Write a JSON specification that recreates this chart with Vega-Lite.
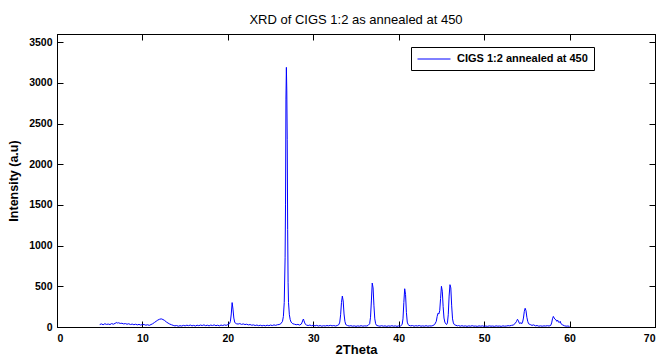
{
  "$schema": "https://vega.github.io/schema/vega-lite/v6.json",
  "width": 598,
  "height": 293,
  "autosize": {"type": "none"},
  "padding": {"left": 57, "top": 34, "right": 1, "bottom": 29},
  "background": "white",
  "config": {
    "view": {"stroke": "black", "strokeWidth": 1},
    "font": "Liberation Sans",
    "axis": {
      "grid": false,
      "domainColor": "black",
      "tickColor": "black",
      "tickSize": -6,
      "labelColor": "black",
      "labelFont": "Liberation Sans",
      "labelFontWeight": "bold",
      "labelFontSize": 10.5,
      "titleColor": "black",
      "titleFont": "Liberation Sans",
      "titleFontWeight": "bold",
      "titleFontSize": 13
    }
  },
  "title": {"text": "XRD of CIGS 1:2 as annealed at 450", "fontSize": 13, "fontWeight": "normal", "font": "Liberation Sans", "color": "black", "offset": 7, "anchor": "middle"},
  "data": {"values": [
    {"t":5.0,"i":30},{"t":5.2,"i":38},{"t":5.4,"i":28},{"t":5.6,"i":40},{"t":5.8,"i":32},{"t":6.0,"i":36},{"t":6.2,"i":30},{"t":6.4,"i":42},{"t":6.6,"i":34},{"t":6.8,"i":45},{"t":7.0,"i":55},{"t":7.1,"i":48},{"t":7.2,"i":52},{"t":7.4,"i":44},{"t":7.6,"i":46},{"t":7.8,"i":38},{"t":8.0,"i":42},{"t":8.2,"i":34},{"t":8.4,"i":40},{"t":8.6,"i":30},{"t":8.8,"i":36},{"t":9.0,"i":28},{"t":9.2,"i":34},{"t":9.4,"i":26},{"t":9.6,"i":32},{"t":9.8,"i":24},{"t":10.0,"i":30},
    {"t":10.2,"i":30},{"t":10.4,"i":22},{"t":10.6,"i":28},{"t":10.8,"i":20},{"t":11.0,"i":30},{"t":11.2,"i":40},{"t":11.4,"i":55},{"t":11.6,"i":70},{"t":11.8,"i":85},{"t":12.0,"i":95},{"t":12.2,"i":100},{"t":12.4,"i":92},{"t":12.6,"i":80},{"t":12.8,"i":62},{"t":13.0,"i":48},{"t":13.2,"i":36},{"t":13.4,"i":28},{"t":13.6,"i":20},{"t":13.8,"i":14},{"t":14.0,"i":18},{"t":14.2,"i":10},{"t":14.4,"i":16},{"t":14.6,"i":12},{"t":14.8,"i":20},{"t":15.0,"i":14},{"t":15.2,"i":22},{"t":15.4,"i":16},{"t":15.6,"i":24},{"t":15.8,"i":14},{"t":16.0,"i":20},{"t":16.2,"i":12},{"t":16.4,"i":22},{"t":16.6,"i":16},{"t":16.8,"i":24},{"t":17.0,"i":18},{"t":17.2,"i":26},{"t":17.4,"i":16},{"t":17.6,"i":22},{"t":17.8,"i":14},{"t":18.0,"i":24},{"t":18.2,"i":18},{"t":18.4,"i":26},{"t":18.6,"i":16},{"t":18.8,"i":22},{"t":19.0,"i":14},{"t":19.2,"i":24},{"t":19.4,"i":18},{"t":19.6,"i":26},{"t":19.8,"i":20},
    {"t":20.0,"i":30},{"t":20.2,"i":42},{"t":20.3,"i":70},{"t":20.4,"i":160},{"t":20.5,"i":300},{"t":20.6,"i":220},{"t":20.7,"i":110},{"t":20.8,"i":60},{"t":20.9,"i":45},{"t":21.0,"i":40},{"t":21.2,"i":36},{"t":21.4,"i":42},{"t":21.6,"i":32},{"t":21.8,"i":38},{"t":22.0,"i":30},{"t":22.2,"i":34},{"t":22.4,"i":26},{"t":22.6,"i":30},{"t":22.8,"i":22},{"t":23.0,"i":26},{"t":23.2,"i":18},{"t":23.4,"i":24},{"t":23.6,"i":16},{"t":23.8,"i":22},{"t":24.0,"i":14},{"t":24.2,"i":20},{"t":24.4,"i":14},{"t":24.6,"i":22},{"t":24.8,"i":16},{"t":25.0,"i":24},{"t":25.2,"i":18},{"t":25.4,"i":26},{"t":25.6,"i":20},{"t":25.8,"i":28},{"t":26.0,"i":30},{"t":26.2,"i":40},{"t":26.4,"i":70},{"t":26.5,"i":130},{"t":26.6,"i":300},{"t":26.7,"i":850},{"t":26.75,"i":1500},{"t":26.8,"i":2800},{"t":26.85,"i":3190},{"t":26.9,"i":2900},{"t":26.95,"i":2300},{"t":27.0,"i":1200},{"t":27.05,"i":550},{"t":27.1,"i":300},{"t":27.2,"i":150},{"t":27.3,"i":90},{"t":27.4,"i":60},{"t":27.6,"i":40},{"t":27.8,"i":34},{"t":28.0,"i":28},{"t":28.2,"i":32},{"t":28.4,"i":24},{"t":28.6,"i":36},{"t":28.7,"i":60},{"t":28.8,"i":90},{"t":28.85,"i":98},{"t":28.9,"i":80},{"t":29.0,"i":50},{"t":29.1,"i":30},{"t":29.2,"i":24},{"t":29.4,"i":18},{"t":29.6,"i":24},{"t":29.8,"i":16},
    {"t":30.0,"i":22},{"t":30.2,"i":14},{"t":30.4,"i":20},{"t":30.6,"i":12},{"t":30.8,"i":18},{"t":31.0,"i":10},{"t":31.2,"i":16},{"t":31.4,"i":12},{"t":31.6,"i":18},{"t":31.8,"i":14},{"t":32.0,"i":20},{"t":32.2,"i":14},{"t":32.4,"i":18},{"t":32.6,"i":12},{"t":32.8,"i":18},{"t":33.0,"i":30},{"t":33.1,"i":60},{"t":33.2,"i":150},{"t":33.3,"i":300},{"t":33.4,"i":380},{"t":33.5,"i":320},{"t":33.6,"i":160},{"t":33.7,"i":70},{"t":33.8,"i":30},{"t":34.0,"i":18},{"t":34.2,"i":12},{"t":34.4,"i":16},{"t":34.6,"i":10},{"t":34.8,"i":14},{"t":35.0,"i":8},{"t":35.2,"i":14},{"t":35.4,"i":10},{"t":35.6,"i":16},{"t":35.8,"i":10},{"t":36.0,"i":14},{"t":36.2,"i":12},{"t":36.4,"i":18},{"t":36.6,"i":40},{"t":36.7,"i":120},{"t":36.8,"i":320},{"t":36.9,"i":540},{"t":37.0,"i":480},{"t":37.1,"i":260},{"t":37.2,"i":100},{"t":37.3,"i":40},{"t":37.4,"i":20},{"t":37.6,"i":14},{"t":37.8,"i":10},{"t":38.0,"i":16},{"t":38.2,"i":10},{"t":38.4,"i":14},{"t":38.6,"i":8},{"t":38.8,"i":14},{"t":39.0,"i":10},{"t":39.2,"i":16},{"t":39.4,"i":10},{"t":39.6,"i":14},{"t":39.8,"i":8},
    {"t":40.0,"i":14},{"t":40.2,"i":12},{"t":40.4,"i":30},{"t":40.5,"i":100},{"t":40.6,"i":300},{"t":40.7,"i":470},{"t":40.8,"i":400},{"t":40.9,"i":180},{"t":41.0,"i":60},{"t":41.1,"i":30},{"t":41.2,"i":20},{"t":41.4,"i":14},{"t":41.6,"i":18},{"t":41.8,"i":10},{"t":42.0,"i":16},{"t":42.2,"i":12},{"t":42.4,"i":18},{"t":42.6,"i":10},{"t":42.8,"i":14},{"t":43.0,"i":10},{"t":43.2,"i":16},{"t":43.4,"i":10},{"t":43.6,"i":14},{"t":43.8,"i":12},{"t":44.0,"i":18},{"t":44.2,"i":30},{"t":44.4,"i":70},{"t":44.5,"i":130},{"t":44.6,"i":170},{"t":44.7,"i":160},{"t":44.8,"i":200},{"t":44.9,"i":350},{"t":45.0,"i":500},{"t":45.1,"i":440},{"t":45.2,"i":250},{"t":45.3,"i":110},{"t":45.4,"i":60},{"t":45.5,"i":40},{"t":45.6,"i":30},{"t":45.7,"i":50},{"t":45.8,"i":150},{"t":45.9,"i":380},{"t":46.0,"i":520},{"t":46.1,"i":480},{"t":46.2,"i":260},{"t":46.3,"i":100},{"t":46.4,"i":50},{"t":46.5,"i":30},{"t":46.7,"i":20},{"t":46.9,"i":14},{"t":47.0,"i":18},{"t":47.2,"i":10},{"t":47.4,"i":16},{"t":47.6,"i":10},{"t":47.8,"i":14},{"t":48.0,"i":8},{"t":48.2,"i":14},{"t":48.4,"i":10},{"t":48.6,"i":16},{"t":48.8,"i":10},{"t":49.0,"i":12},{"t":49.2,"i":8},{"t":49.4,"i":14},{"t":49.6,"i":10},{"t":49.8,"i":14},
    {"t":50.0,"i":8},{"t":50.2,"i":12},{"t":50.4,"i":8},{"t":50.6,"i":14},{"t":50.8,"i":10},{"t":51.0,"i":12},{"t":51.2,"i":8},{"t":51.4,"i":14},{"t":51.6,"i":10},{"t":51.8,"i":12},{"t":52.0,"i":8},{"t":52.2,"i":14},{"t":52.4,"i":10},{"t":52.6,"i":12},{"t":52.8,"i":16},{"t":53.0,"i":14},{"t":53.2,"i":20},{"t":53.4,"i":24},{"t":53.6,"i":40},{"t":53.8,"i":70},{"t":53.9,"i":95},{"t":54.0,"i":80},{"t":54.1,"i":50},{"t":54.2,"i":40},{"t":54.3,"i":55},{"t":54.4,"i":40},{"t":54.5,"i":60},{"t":54.6,"i":110},{"t":54.7,"i":190},{"t":54.8,"i":230},{"t":54.9,"i":200},{"t":55.0,"i":120},{"t":55.1,"i":70},{"t":55.2,"i":40},{"t":55.4,"i":30},{"t":55.6,"i":20},{"t":55.8,"i":26},{"t":56.0,"i":14},{"t":56.2,"i":18},{"t":56.4,"i":10},{"t":56.6,"i":14},{"t":56.8,"i":10},{"t":57.0,"i":14},{"t":57.2,"i":12},{"t":57.4,"i":16},{"t":57.6,"i":12},{"t":57.8,"i":20},{"t":57.9,"i":50},{"t":58.0,"i":100},{"t":58.1,"i":130},{"t":58.2,"i":110},{"t":58.3,"i":95},{"t":58.4,"i":90},{"t":58.5,"i":70},{"t":58.6,"i":85},{"t":58.7,"i":60},{"t":58.8,"i":55},{"t":58.9,"i":70},{"t":59.0,"i":40},{"t":59.2,"i":25},{"t":59.4,"i":15},{"t":59.6,"i":10},{"t":59.8,"i":12},{"t":60.0,"i":8}
  ]},
  "layer": [
    {
      "mark": {"type": "line", "color": "#0000ff", "strokeWidth": 1, "interpolate": "linear"},
      "encoding": {
        "x": {"field": "t", "type": "quantitative", "scale": {"domain": [0, 70], "nice": false, "zero": false},
              "axis": {"orient": "bottom", "values": [0,10,20,30,40,50,60,70], "format": "d", "title": "2Theta", "labelPadding": 12, "titlePadding": 0}},
        "y": {"field": "i", "type": "quantitative", "scale": {"domain": [0, 3600], "nice": false},
              "axis": {"orient": "left", "values": [0,500,1000,1500,2000,2500,3000,3500], "format": "d", "title": "Intensity (a.u)", "titleFontSize": 12.5, "labelPadding": 11, "titlePadding": 8}},
        "color": {"datum": "CIGS 1:2 annealed at 450", "type": "nominal", "scale": {"range": ["#0000ff"]},
                  "legend": {"orient": "none", "legendX": 354, "legendY": 13, "title": null, "symbolType": "M-3,0H3", "symbolSize": 121, "symbolOffset": 11, "symbolStrokeWidth": 1, "labelFontSize": 11, "labelFontWeight": "bold", "labelFont": "Liberation Sans", "labelColor": "black", "strokeColor": "black", "fillColor": "white", "padding": 6, "labelOffset": 17, "cornerRadius": 0}}
      }
    },
    {
      "mark": {"type": "point", "opacity": 0},
      "encoding": {
        "x": {"field": "t", "type": "quantitative", "axis": {"orient": "top", "values": [0,10,20,30,40,50,60,70], "labels": false, "title": null}},
        "y": {"field": "i", "type": "quantitative", "axis": {"orient": "right", "values": [0,500,1000,1500,2000,2500,3000,3500], "labels": false, "title": null}}
      }
    }
  ],
  "resolve": {"axis": {"x": "independent", "y": "independent"}}
}
